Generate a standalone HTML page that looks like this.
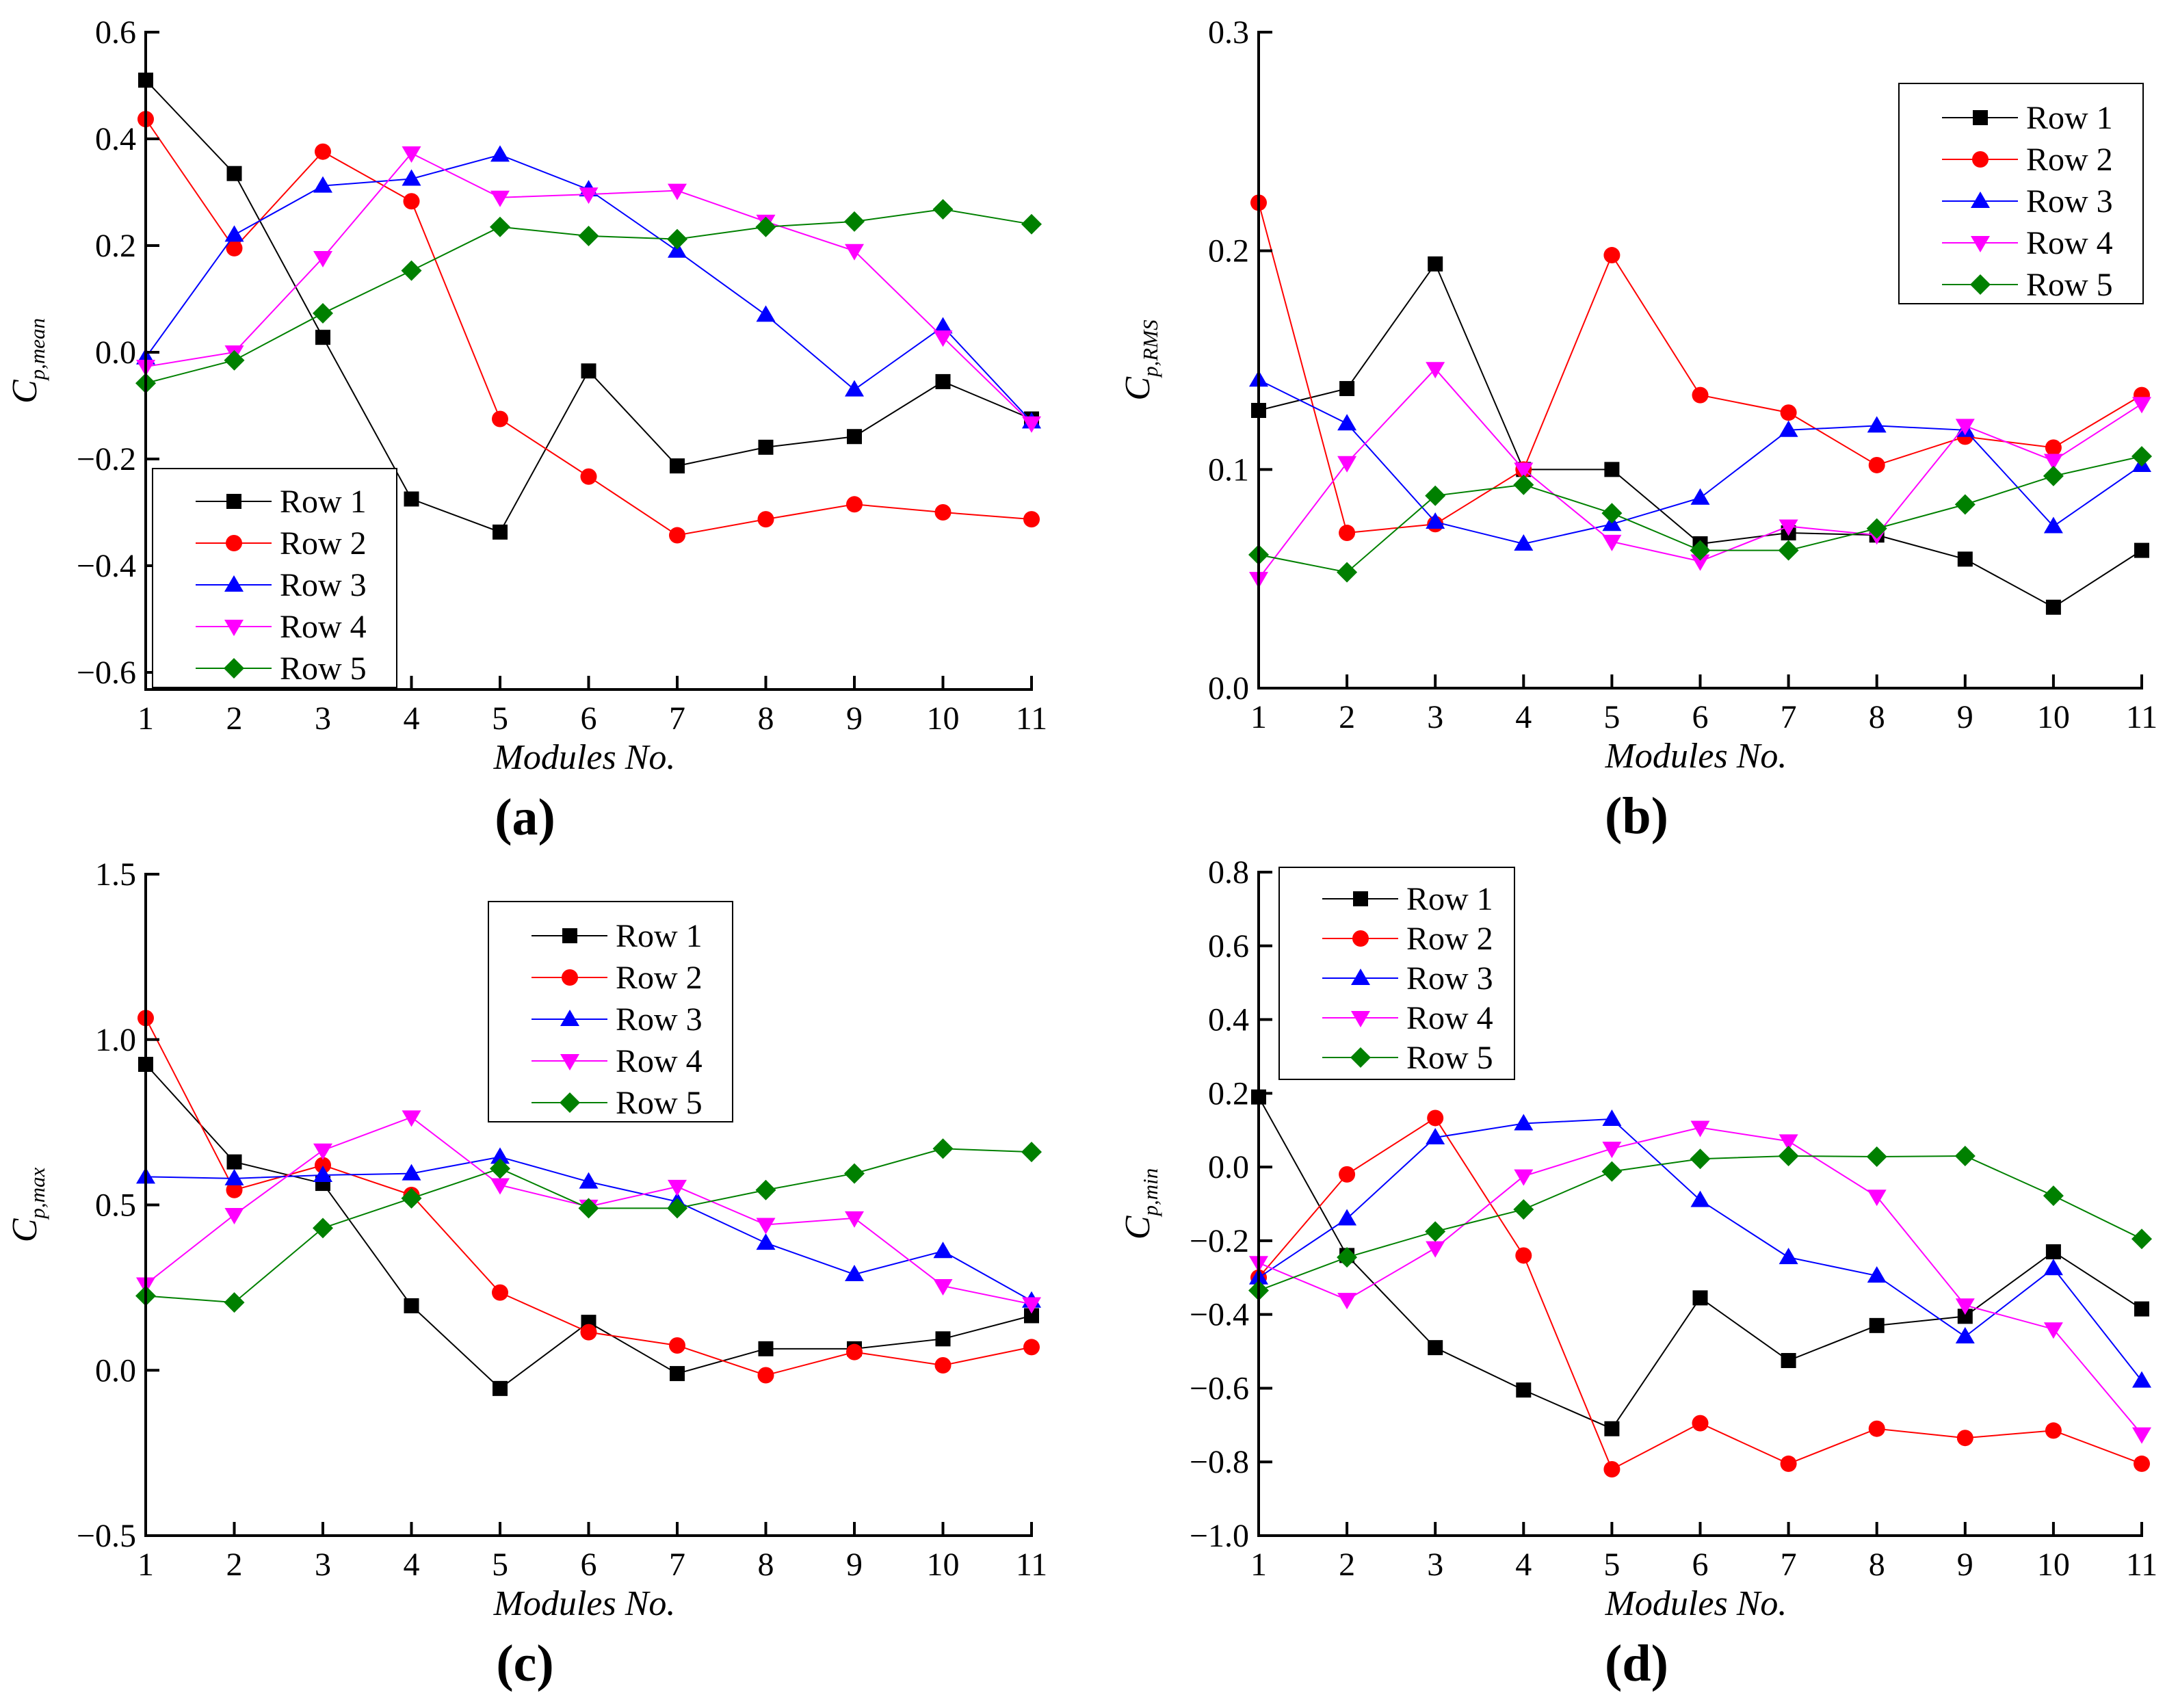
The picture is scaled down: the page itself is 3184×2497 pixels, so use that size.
<!DOCTYPE html>
<html><head><meta charset="utf-8">
<style>
html,body{margin:0;padding:0;background:#fff;}
svg{display:block;}
svg text{font-family:"Liberation Serif","Times New Roman",serif;}
</style></head>
<body>
<svg id="fig" width="3184" height="2497" viewBox="0 0 3184 2497" xmlns="http://www.w3.org/2000/svg" font-family="Liberation Serif, serif">
<rect width="3184" height="2497" fill="#fff"/>
</svg>
<script>
// ---- data ----
const modules = [1,2,3,4,5,6,7,8,9,10,11];
const seriesNames = ["Row 1","Row 2","Row 3","Row 4","Row 5"];
const meanRow1 = [0.51,0.335,0.028,-0.275,-0.337,-0.035,-0.213,-0.178,-0.158,-0.055,-0.125];
const meanRow2 = [0.437,0.195,0.376,0.283,-0.125,-0.233,-0.343,-0.313,-0.285,-0.3,-0.313];
const meanRow3 = [-0.01,0.22,0.312,0.325,0.37,0.305,0.19,0.07,-0.07,0.048,-0.13];
const meanRow4 = [-0.027,0.0,0.177,0.373,0.29,0.296,0.303,0.245,0.19,0.028,-0.133];
const meanRow5 = [-0.058,-0.015,0.073,0.153,0.235,0.218,0.212,0.235,0.245,0.268,0.24];
const rmsRow1 = [0.127,0.137,0.194,0.1,0.1,0.066,0.071,0.07,0.059,0.037,0.063];
const rmsRow2 = [0.222,0.071,0.075,0.1,0.198,0.134,0.126,0.102,0.115,0.11,0.134];
const rmsRow3 = [0.141,0.121,0.076,0.066,0.075,0.087,0.118,0.12,0.118,0.074,0.102];
const rmsRow4 = [0.05,0.103,0.146,0.1,0.067,0.058,0.074,0.07,0.12,0.104,0.13];
const rmsRow5 = [0.061,0.053,0.088,0.093,0.08,0.063,0.063,0.073,0.084,0.097,0.106];
const maxRow1 = [0.925,0.63,0.565,0.195,-0.055,0.145,-0.01,0.065,0.065,0.095,0.165];
const maxRow2 = [1.065,0.545,0.62,0.53,0.235,0.115,0.075,-0.015,0.055,0.015,0.07];
const maxRow3 = [0.585,0.58,0.59,0.595,0.645,0.57,0.51,0.385,0.29,0.36,0.21];
const maxRow4 = [0.26,0.47,0.665,0.765,0.56,0.495,0.555,0.44,0.46,0.255,0.2];
const maxRow5 = [0.225,0.205,0.43,0.52,0.61,0.49,0.49,0.545,0.595,0.67,0.66];
const minRow1 = [0.19,-0.24,-0.49,-0.605,-0.71,-0.355,-0.525,-0.43,-0.405,-0.23,-0.385];
const minRow2 = [-0.3,-0.02,0.133,-0.24,-0.82,-0.695,-0.805,-0.71,-0.735,-0.715,-0.805];
const minRow3 = [-0.3,-0.14,0.08,0.118,0.13,-0.09,-0.245,-0.295,-0.46,-0.275,-0.58];
const minRow4 = [-0.26,-0.36,-0.22,-0.025,0.05,0.107,0.07,-0.08,-0.375,-0.44,-0.725];
const minRow5 = [-0.335,-0.245,-0.175,-0.115,-0.012,0.022,0.03,0.028,0.03,-0.078,-0.195];
const ticksMean = [0.6,0.4,0.2,0.0,-0.2,-0.4,-0.6];
const ticksRms = [0.0,0.1,0.2,0.3];
const ticksMax = [-0.5,0.0,0.5,1.0,1.5];
const ticksMin = [0.8,0.6,0.4,0.2,0.0,-0.2,-0.4,-0.6,-0.8,-1.0];

// ---- styles ----
const colors = ["#000000","#ff0000","#0000ff","#ff00ff","#008000"];
const shapes = ["square","circle","up","down","diamond"];
const NS = "http://www.w3.org/2000/svg";
const svg = document.getElementById('fig');
const FONT = '"Liberation Serif", "Times New Roman", serif';

function el(tag, attrs, parent){
  const e = document.createElementNS(NS, tag);
  for (const k in attrs) e.setAttribute(k, attrs[k]);
  if (tag==='text') e.style.fontFamily = FONT;
  (parent||svg).appendChild(e);
  return e;
}
function fmt(v){ return (v<0?"\u2212":"") + Math.abs(v).toFixed(1); }

function marker(g, shape, x, y, c){
  let m;
  if (shape==="square") m = el('rect',{x:x-11,y:y-11,width:22,height:22,fill:c},g);
  else if (shape==="circle") m = el('circle',{cx:x,cy:y,r:12,fill:c},g);
  else if (shape==="up") m = el('polygon',{points:`${x},${y-14} ${x+14},${y+10} ${x-14},${y+10}`,fill:c},g);
  else if (shape==="down") m = el('polygon',{points:`${x},${y+14} ${x+14},${y-10} ${x-14},${y-10}`,fill:c},g);
  else m = el('polygon',{points:`${x},${y-15} ${x+15},${y} ${x},${y+15} ${x-15},${y}`,fill:c},g);
  return m;
}

function panel(cfg){
  const g = el('g',{});
  
  
  const xs = v => cfg.x0 + (v-1)/10*(cfg.x1-cfg.x0);
  const ys = v => cfg.yTop + (cfg.vTop - v)/(cfg.vTop - cfg.vBot)*(cfg.yBot - cfg.yTop);
  const axisBottom = cfg.axisBottom;
  cfg.series.forEach((arr,i)=>{
    const sg = el('g',{},g);
    
    
    const pts = arr.map((v,j)=>xs(modules[j])+","+ys(v)).join(" ");
    el('polyline',{points:pts,fill:'none',stroke:colors[i],'stroke-width':2},sg);
    arr.forEach((v,j)=>{
      const m = marker(sg, shapes[i], xs(modules[j]), ys(v), colors[i]);
      
      
    });
  });
  const ax = el('g',{},g);
  
  
  el('line',{x1:cfg.x0,y1:cfg.yTop-2,x2:cfg.x0,y2:axisBottom+2,stroke:'#000','stroke-width':4},ax);
  el('line',{x1:cfg.x0-2,y1:axisBottom,x2:cfg.x1+2,y2:axisBottom,stroke:'#000','stroke-width':4},ax);
  modules.forEach(m=>{
    const x = xs(m);
    el('line',{x1:x,y1:axisBottom,x2:x,y2:axisBottom-20,stroke:'#000','stroke-width':4},ax);
    const t = el('text',{x:x,y:axisBottom+58,'font-size':48,'text-anchor':'middle'},ax);
    t.textContent = m;
    
    
  });
  cfg.ticks.forEach(v=>{
    const y = ys(v);
    el('line',{x1:cfg.x0,y1:y,x2:cfg.x0+20,y2:y,stroke:'#000','stroke-width':4},ax);
    const t = el('text',{x:cfg.x0-14,y:y+16,'font-size':48,'text-anchor':'end'},ax);
    t.textContent = fmt(v);
    
    
  });
  const xt = el('text',{x:(cfg.x0+cfg.x1)/2-6,y:axisBottom+116,'font-size':52,'font-style':'italic','text-anchor':'middle'},g);
  xt.textContent = "Modules No.";
  
  
  const cy = (cfg.yTop+axisBottom)/2;
  const yt = el('text',{transform:`translate(${cfg.x0-160},${cy}) rotate(-90)`,'font-size':52,'font-style':'italic','text-anchor':'middle'},g);
  yt.innerHTML = `C<tspan font-size="31" dy="12">${cfg.sub}</tspan>`;
  
  
  const pl = el('text',{x:(cfg.x0+cfg.x1)/2-93,y:axisBottom+212,'font-size':76,'font-weight':'bold','text-anchor':'middle'},g);
  pl.textContent = cfg.label;
  
  
  const L = cfg.legend;
  const lg = el('g',{},g);
  
  
  el('rect',{x:L.x,y:L.y,width:L.w,height:L.h,fill:'#fff',stroke:'#000','stroke-width':2},lg);
  seriesNames.forEach((n,i)=>{
    const e = el('g',{},lg);
    
    
    const y = L.y + L.first + i*L.step;
    el('line',{x1:L.x+63,y1:y,x2:L.x+174,y2:y,stroke:colors[i],'stroke-width':2},e);
    marker(e, shapes[i], L.x+119, y, colors[i]);
    const t = el('text',{x:L.x+186,y:y+16,'font-size':48},e);
    t.textContent = n;
  });
}

panel({name:'panel-a-cp-mean',label:'(a)',sub:'p,mean',x0:213,x1:1508,yTop:47,yBot:983,vTop:0.6,vBot:-0.6,axisBottom:1008,
  ticks:ticksMean,series:[meanRow1,meanRow2,meanRow3,meanRow4,meanRow5],
  legend:{x:223,y:685,w:357,h:320,first:48,step:61}});
panel({name:'panel-b-cp-rms',label:'(b)',sub:'p,RMS',x0:1840,x1:3131,yTop:47,yBot:1006,vTop:0.3,vBot:0.0,axisBottom:1006,
  ticks:ticksRms,series:[rmsRow1,rmsRow2,rmsRow3,rmsRow4,rmsRow5],
  legend:{x:2776,y:122,w:357,h:322,first:50,step:61}});
panel({name:'panel-c-cp-max',label:'(c)',sub:'p,max',x0:213,x1:1508,yTop:1278,yBot:2245,vTop:1.5,vBot:-0.5,axisBottom:2245,
  ticks:ticksMax,series:[maxRow1,maxRow2,maxRow3,maxRow4,maxRow5],
  legend:{x:714,y:1318,w:357,h:322,first:50,step:61}});
panel({name:'panel-d-cp-min',label:'(d)',sub:'p,min',x0:1840,x1:3131,yTop:1275,yBot:2245,vTop:0.8,vBot:-1.0,axisBottom:2245,
  ticks:ticksMin,series:[minRow1,minRow2,minRow3,minRow4,minRow5],
  legend:{x:1870,y:1268,w:344,h:310,first:46,step:58}});
</script>
</body></html>
